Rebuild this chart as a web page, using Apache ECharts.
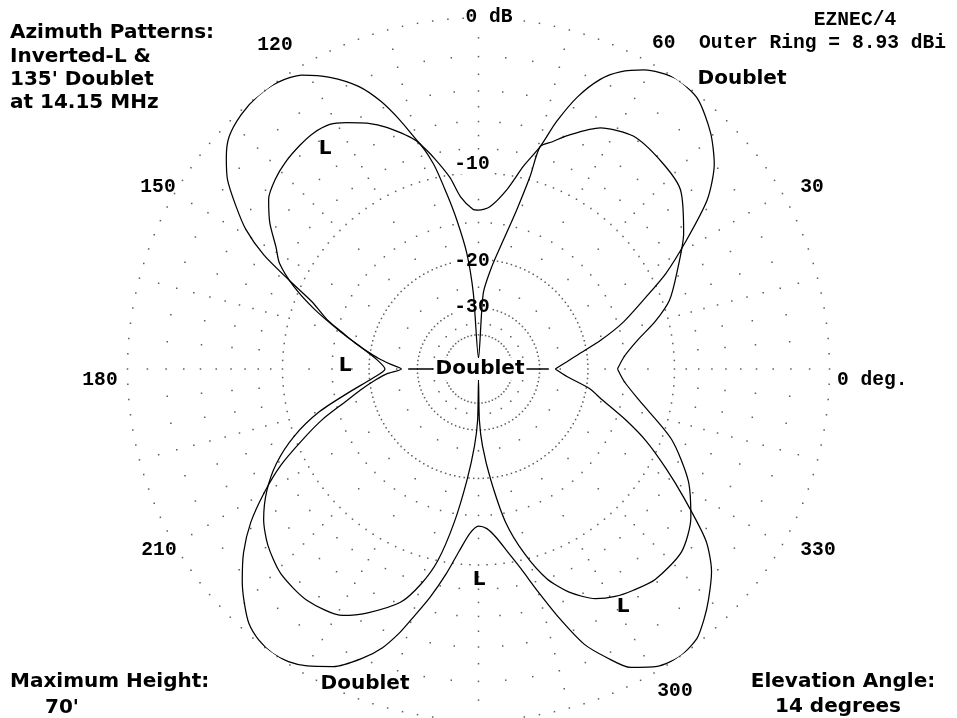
<!DOCTYPE html>
<html>
<head>
<meta charset="utf-8">
<script src="https://cdn.jsdelivr.net/npm/echarts/dist/echarts.min.js"></script>
<style>
  html, body { margin: 0; padding: 0; background: #fff; }
  #chart { width: 957px; height: 718px; }
</style>
</head>
<body>
<div id="chart"></div>
<script>
// Azimuth (deg, 0 = right, counter-clockwise) and gain relative to the outer ring (dB)
const doubletDeg = [
  0, 4.7, 8.3, 13.3, 18, 23.3, 27, 31.4, 36.5, 41, 45.5, 51, 56, 61, 64.5, 67.2, 70, 72.5, 74.5, 77.5, 81, 86, 90,
  92, 96, 98.5, 102, 105, 107.5, 110, 113, 117, 121, 125, 129, 133, 137, 140, 143, 146, 149, 152, 155, 158, 162, 165.2, 168, 171, 174, 177, 180,
  183, 186, 190, 194, 198, 202, 206, 210, 214, 218, 222, 225, 228, 231, 234, 237, 240, 244, 248, 251, 253.4, 255, 258, 261, 264, 267, 270,
  273, 276, 279, 282, 285, 288, 291, 294, 297, 301, 305, 309, 312, 315, 319, 323, 328, 332, 336.7, 341, 346.2, 350, 355, 360];
const doubletDb = [
  -26.1, -23.6, -21.4, -17.6, -14.3, -11.2, -8.8, -6.4, -3.6, -2.0, -1.0, -0.15, 0, -0.45, -1.1, -1.9, -3.3, -5.2, -7.2, -9.0, -11.3, -13.2, -13.6,
  -13.5, -12.1, -10.2, -8.3, -6.8, -5.1, -3.6, -2.3, -1.2, -0.4, -0.05, 0, -0.15, -0.5, -1.1, -1.9, -3.1, -4.4, -6.3, -9.0, -11.5, -13.6, -15.8, -17.5, -19.5, -21.5, -23.8, -26,
  -23, -21, -18.5, -16, -13, -10.5, -8, -6, -4.2, -2.8, -1.7, -1.0, -0.4, -0.1, 0, -0.1, -0.4, -1.0, -2.0, -3.0, -4.2, -5.2, -7, -9, -11.2, -13, -13.8,
  -13.5, -12.5, -11, -9.3, -7.2, -5, -3, -1.8, -0.8, -0.2, 0, -0.2, -0.7, -1.3, -2.2, -3.6, -6.4, -8.6, -11.2, -14, -17.5, -19.5, -23.5, -26.1];

const invLDeg = [
  0, 5, 10.3, 15, 19.8, 25.8, 33.5, 41.6, 48.5, 56.4, 63.2, 69, 72, 74.5, 75, 76.5, 79.1, 82.6, 86.4, 90,
  93.9, 95.8, 98.3, 100.3, 102.4, 105.2, 110.8, 114.4, 118.2, 121.3, 125, 128.6, 133, 137, 141, 145, 149, 152, 156, 160, 165, 170, 175, 180,
  185, 190, 195, 200, 205, 210, 215, 220, 226, 233.4, 241.2, 245.4, 251.5, 255, 258, 261, 264.1, 267, 269, 270,
  271, 273, 276.3, 280, 284, 288, 292, 297, 301, 305, 310, 318, 325, 332, 340, 349, 355, 360];
const invLDb = [
  -15.9, -15, -13.3, -11.2, -9.4, -8.0, -6.1, -4.5, -4.1, -3.9, -4.5, -5.8, -6.6, -7.2, -9.7, -13.1, -16.9, -21, -26.3, -60,
  -26.3, -18.9, -14.5, -11.6, -8.8, -6.8, -5.25, -4.5, -3.9, -3.5, -3.4, -3.5, -3.7, -4.0, -4.5, -5.5, -6.8, -7.6, -9.5, -12, -15.5, -18.8, -21.3, -22.7,
  -20.5, -17, -13, -10, -7.8, -6.2, -5, -4.2, -3.6, -3.4, -3.8, -4.6, -6.1, -7.8, -10, -14, -19.7, -26, -33, -60,
  -33, -26, -19.7, -14, -10.5, -8, -6.5, -5.3, -4.8, -4.5, -4.2, -4.3, -5.2, -6.7, -9.2, -13.1, -15, -15.9];

// Grid levels (dB)
const outerRingDb = 0;
const denseRingDb = [-10, -20, -30, -40];
const minorRingDb = [-2, -4, -6, -8, -15];
const radialTickDb = [-1, -3, -5, -7, -9, -12.5, -17.5, -25, -35];
const centerTickDb = -27.6;

// ARRL log-periodic radial scale: 2 dB per 0.89 step
const arrl = db => Math.pow(0.89, -db / 2);

const gridDots = [];
function ring(db, step) {
  for (let a = 0; a < 360; a += step) gridDots.push([arrl(db), a]);
}
ring(outerRingDb, 2.5);
ring(denseRingDb[0], 2.5);
ring(denseRingDb[1], 2.5);
ring(denseRingDb[2], 4);
ring(denseRingDb[3], 6);
minorRingDb.forEach(db => ring(db, 5));
for (let a = 0; a < 360; a += 15) {
  radialTickDb.forEach(db => gridDots.push([arrl(db), a]));
}

const toPolar = (deg, db) => deg.map((a, i) => [arrl(db[i]), a]);

const chart = echarts.init(document.getElementById('chart'), null, { renderer: 'canvas' });

const mono = 'bold 19.6px "Liberation Mono", monospace';
const sans = 'bold 20px "DejaVu Sans", sans-serif';

function txt(text, x, y, font, align, extra) {
  return {
    type: 'text', x: x, y: y, z: 3,
    style: Object.assign({ text: text, font: font, fill: '#000', textAlign: align || 'center', textVerticalAlign: 'middle' }, extra || {})
  };
}
const boxed = { backgroundColor: '#fff', padding: [0, 1] };

chart.setOption({
  animation: false,
  backgroundColor: '#fff',
  polar: { center: [478.5, 369], radius: 351 },
  angleAxis: { type: 'value', min: 0, max: 360, startAngle: 0, clockwise: false, show: false },
  radiusAxis: { type: 'value', min: 0, max: 1, show: false },
  series: [
    {
      type: 'scatter', coordinateSystem: 'polar', data: gridDots, silent: true, z: 1,
      symbol: 'rect', symbolSize: 1.5, itemStyle: { color: '#333' }
    },
    {
      type: 'line', coordinateSystem: 'polar', silent: true, z: 4, symbol: 'none',
      data: [[arrl(centerTickDb), 180], [arrl(centerTickDb), 0]],
      lineStyle: { color: '#000', width: 1.3 }
    },
    {
      name: 'Doublet', type: 'line', coordinateSystem: 'polar', z: 5, symbol: 'none', smooth: 0.25,
      data: toPolar(doubletDeg, doubletDb), lineStyle: { color: '#000', width: 1.25 }
    },
    {
      name: 'L', type: 'line', coordinateSystem: 'polar', z: 5, symbol: 'none', smooth: 0.25,
      data: toPolar(invLDeg, invLDb), lineStyle: { color: '#000', width: 1.25 }
    }
  ],
  graphic: [
    txt('Azimuth Patterns:', 10, 33, sans, 'left'),
    txt('Inverted-L &', 10, 57, sans, 'left'),
    txt("135' Doublet", 10, 80, sans, 'left'),
    txt('at 14.15 MHz', 10, 103, sans, 'left'),
    txt('0 dB', 489, 17, mono, 'center', boxed),
    txt('EZNEC/4', 855, 20, mono, 'center'),
    txt('60  Outer Ring = 8.93 dBi', 652, 43, mono, 'left'),
    txt('120', 275, 45, mono),
    txt('150', 158, 187, mono),
    txt('30', 812, 187, mono),
    txt('180', 100, 380, mono),
    txt('0 deg.', 837, 380, mono, 'left'),
    txt('210', 159, 550, mono),
    txt('330', 818, 550, mono),
    txt('300', 675, 691, mono),
    txt('-10', 472, 164, mono, 'center', boxed),
    txt('-20', 472, 261, mono, 'center', boxed),
    txt('-30', 472, 307, mono, 'center', boxed),
    Object.assign(txt('Doublet', 480, 369, sans, 'center', { backgroundColor: '#fff', padding: [1, 2] }), { z: 10 }),
    txt('Doublet', 742, 79, sans),
    txt('Doublet', 365, 684, sans),
    txt('L', 325, 149, sans),
    txt('L', 345, 366, sans),
    txt('L', 479, 580, sans),
    txt('L', 623, 607, sans),
    txt('Maximum Height:', 10, 682, sans, 'left'),
    txt("70'", 62, 708, sans),
    txt('Elevation Angle:', 843, 682, sans),
    txt('14 degrees', 838, 707, sans)
  ]
});
</script>
</body>
</html>
